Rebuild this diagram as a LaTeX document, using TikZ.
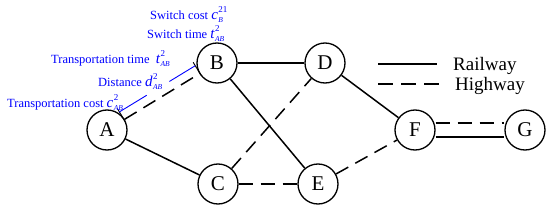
\documentclass[tikz,border=0pt]{standalone}
\usepackage{fontspec}
\setmainfont{Liberation Serif}
\usetikzlibrary{calc}
\newcommand{\varsym}[3]{{\fontsize{15}{15}\selectfont\itshape #1}\hspace{0.5pt}\makebox[0pt][l]{\raisebox{0.55em}{\fontsize{9}{9}\selectfont #3}}\raisebox{-0.3em}{\fontsize{7.5}{8}\selectfont\itshape #2}}
\begin{document}
\begin{tikzpicture}[x=1pt,y=-1pt,
  city/.style={circle,draw,line width=1.3pt,minimum size=40pt,inner sep=0pt,font=\fontsize{21}{24}\selectfont},
  rail/.style={line width=1.5pt},
  road/.style={line width=1.5pt,dash pattern=on 14pt off 8pt},
  ann/.style={blue,line width=0.9pt},
  tick/.style={black,line width=0.9pt},
  lab/.style={blue,anchor=base west,inner sep=0pt,font=\fontsize{12.5}{14}\selectfont},
  leg/.style={anchor=base west,inner sep=0pt,font=\fontsize{19}{22}\selectfont}]
\useasboundingbox (0,0) rectangle (550,209);
\node[city] (A) at (107,130) {A};
\node[city] (B) at (217,63) {B};
\node[city] (C) at (218,184) {C};
\node[city] (D) at (325,63) {D};
\node[city] (E) at (318,184) {E};
\node[city] (F) at (415,130) {F};
\node[city] (G) at (525,130) {G};
% edges
\draw[road] (A) -- (B);
\draw[rail] (A) -- (C);
\draw[rail] (B) -- (D);
\draw[rail] (B) -- (E);
\draw[road] (C) -- (D);
\draw[road] (C) -- (E);
\draw[rail] (D) -- (F);
\draw[road] (E) -- (F);
\draw[road] ([yshift=7pt]F.east) -- ([yshift=7pt]G.west);
\draw[rail] ([yshift=-7pt]F.east) -- ([yshift=-7pt]G.west);
% dimension annotation on A-B
\coordinate (a1) at ($(A)!20pt!(B)$);
\coordinate (b1) at ($(B)!20pt!(A)$);
\coordinate (a2) at ($(a1)!9pt!90:(b1)$);
\coordinate (b2) at ($(b1)!9pt!-90:(a1)$);
\draw[tick] ($(a1)!-2pt!90:(b1)$) -- ($(a1)!13pt!90:(b1)$);
\draw[tick] ($(b1)!-2pt!-90:(a1)$) -- ($(b1)!13pt!-90:(a1)$);
\draw[ann] (a2) -- ($(a2)!0.36!(b2)$);
\draw[ann] ($(a2)!0.66!(b2)$) -- (b2);
% labels
\node[lab] (l1) at (150,19) {Switch cost \varsym{c}{B}{21}};
\node[lab] (l2) at (147,38) {Switch time \varsym{t}{AB}{2}};
\node[lab] (l3) at (51,63) {Transportation time\ \ \varsym{t}{AB}{2}};
\node[lab] (l4) at (98,86) {Distance \varsym{d}{AB}{2}};
\node[lab] (l5) at (7,107) {Transportation cost \varsym{c}{AB}{2}};
% legend
\coordinate (r1) at (378,64);
\coordinate (r2) at (437,64);
\coordinate (h1) at (378,84);
\coordinate (h2) at (440,84);
\draw[rail] (r1) -- (r2);
\draw[line width=1.5pt,dash pattern=on 15pt off 8pt] (h1) -- (h2);
\node[leg] (lr) at (453,70) {Railway};
\node[leg] (lh) at (455,90) {Highway};
\end{tikzpicture}
\end{document}
